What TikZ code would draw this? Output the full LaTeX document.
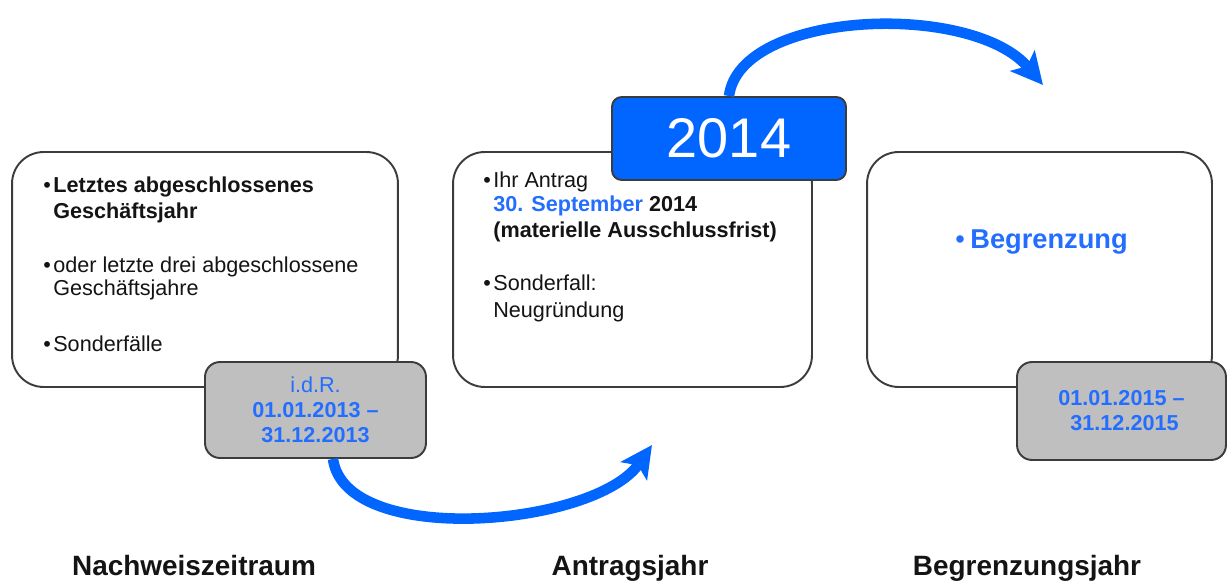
\documentclass[tikz,border=0pt]{standalone}
\usepackage{fontspec}
\setmainfont{Liberation Sans}
\usetikzlibrary{arrows.meta}
\definecolor{boxblue}{RGB}{0,102,255}
\definecolor{txtblue}{RGB}{35,110,255}
\definecolor{frame}{RGB}{60,60,60}
\definecolor{datefill}{RGB}{191,191,191}
\definecolor{ink}{RGB}{20,20,20}
\newcommand{\bul}{\makebox[0.2cm][l]{\textbullet}}
\begin{document}
\begin{tikzpicture}[x=0.02cm, y=-0.02cm,
                yearbox/.style = {draw=frame, line width=1.1pt, rounded corners=18pt, fill=white, minimum height=4.7cm},
                datebox/.style = {draw=frame, line width=1.1pt, rounded corners=8.5pt, fill=datefill, align=center,
                                  text=txtblue, font=\fontsize{12.3}{14.2}\selectfont},
                txtline/.style = {anchor=base west, inner sep=0pt, text=ink, font=\fontsize{12.3}{14.2}\selectfont},
                yearlabel/.style = {anchor=base, inner sep=0pt, text=ink, font=\fontsize{15.9}{18}\selectfont\bfseries},
                jump/.style = {draw=boxblue, line width=6pt, -{Stealth[length=18pt, width=18pt, inset=4pt]}}]
            \useasboundingbox (0,0) rectangle (1228,581);
            % the three years
            \node[yearbox, minimum width=7.72cm] (nachweis) at (205,269.5) {};
            \node[yearbox, minimum width=7.18cm] (antrag) at (632.5,269.5) {};
            \node[yearbox, minimum width=6.9cm] (begrenz) at (1039.5,269.5) {};
            % text of the boxes
            \node[txtline] (a1) at (43,193) {\bul\textbf{Letztes abgeschlossenes}};
            \node[txtline] (a2) at (53,218) {\textbf{Geschäftsjahr}};
            \node[txtline] (a3) at (43,272) {\bul oder letzte drei abgeschlossene};
            \node[txtline] (a4) at (53,295) {Geschäftsjahre};
            \node[txtline] (a5) at (43,351) {\bul Sonderfälle};
            \node[txtline] (b1) at (483,188) {\bul Ihr Antrag};
            \node[txtline] (b2) at (493,212) {\textbf{\textcolor{txtblue}{30. September} 2014}};
            \node[txtline] (b3) at (493,237) {\textbf{(materielle Ausschlussfrist)}};
            \node[txtline] (b4) at (483,290) {\bul Sonderfall:};
            \node[txtline] (b5) at (493,317) {Neugründung};
            \node[txtline, text=txtblue, font=\fontsize{15.5}{18}\selectfont] (c1) at (955,248)
                {\makebox[0.3cm][l]{\textbullet}\textbf{Begrenzung}};
            % periods
            \node[datebox, minimum width=4.42cm, minimum height=1.92cm] (zeitA) at (315.5,410)
                {i.d.R.\\\textbf{01.01.2013 --}\\\textbf{31.12.2013}};
            \node[datebox, minimum width=4.18cm, minimum height=1.96cm] (zeitC) at (1121.5,411)
                {\textbf{01.01.2015 --}\\\textbf{\ 31.12.2015}};
            \node[draw=frame, line width=1.1pt, rounded corners=5.5pt, fill=boxblue, text=white,
                  minimum width=4.68cm, minimum height=1.66cm, font=\fontsize{31.8}{36}\selectfont] (jahr) at (729,138.5) {2014};
            % connectors
            \coordinate (tipB) at (652,445);
            \coordinate (tipC) at (1043,85);
            \draw[jump] ([xshift=0.35cm]zeitA.south) .. controls (345,548) and (595,527) .. (tipB);
            \draw[jump] (jahr.north) .. controls (740,10) and (972,1) .. (tipC);
            % captions
            \node[yearlabel] (lblA) at (194,575) {Nachweiszeitraum};
            \node[yearlabel] (lblB) at (630,575) {Antragsjahr};
            \node[yearlabel] (lblC) at (1027,575) {Begrenzungsjahr};
\end{tikzpicture}
\end{document}
